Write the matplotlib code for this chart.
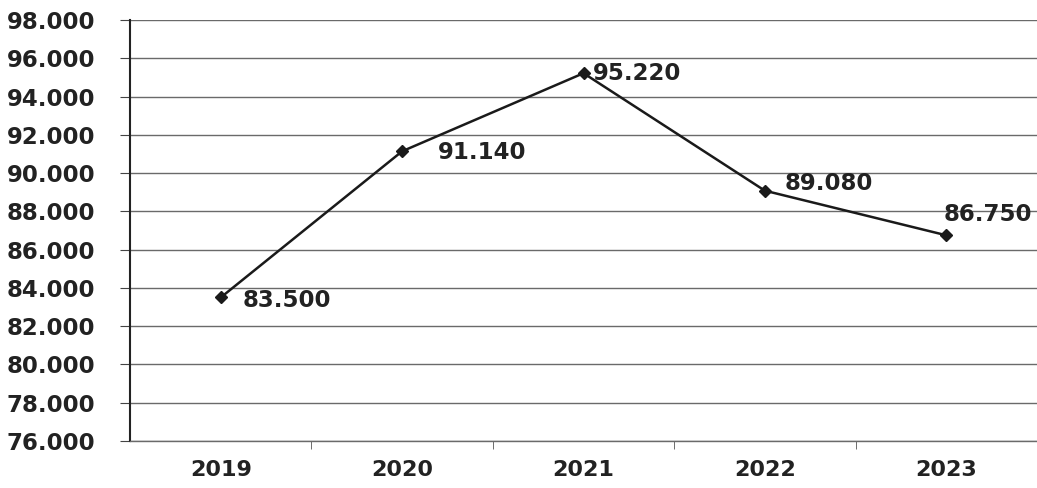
import matplotlib
matplotlib.use("Agg")
import matplotlib.pyplot as plt
from matplotlib.ticker import FixedLocator

years = ["2019", "2020", "2021", "2022", "2023"]
values = [83.500, 91.140, 95.220, 89.080, 86.750]
value_labels = ["83.500", "91.140", "95.220", "89.080", "86.750"]
y_ticks = [76, 78, 80, 82, 84, 86, 88, 90, 92, 94, 96, 98]
y_tick_labels = ["76.000", "78.000", "80.000", "82.000", "84.000", "86.000",
                 "88.000", "90.000", "92.000", "94.000", "96.000", "98.000"]

# label offsets in points (dx, dy)
label_offsets = [(16, -2), (26, -1), (7, 0), (14, 5), (-2, 15)]

plt.rcParams['font.family'] = ['DejaVu Sans']
fig = plt.figure(figsize=(10.37, 4.88), dpi=100)
ax = fig.add_axes([0.1254, 0.0963, 0.8746, 0.8627])

x = list(range(len(years)))
ax.plot(x, values, color="#1a1a1a", linewidth=1.8, marker="D", markersize=6,
        markerfacecolor="#1a1a1a", markeredgecolor="#1a1a1a", zorder=3)

for xi, v, lab, (dx, dy) in zip(x, values, value_labels, label_offsets):
    ax.annotate(lab, (xi, v), xytext=(dx, dy), textcoords="offset points",
                ha="left", va="center", fontsize=16.5, fontweight="bold",
                color="#222222", zorder=4)

ax.set_xlim(-0.5, 4.5)
ax.set_ylim(76, 98)
ax.set_yticks(y_ticks)
ax.set_yticklabels(y_tick_labels, fontsize=16.5, fontweight="bold", color="#222222")
ax.set_xticks(x)
ax.set_xticklabels(years, fontsize=16, fontweight="bold", color="#222222")
ax.xaxis.set_minor_locator(FixedLocator([0.5, 1.5, 2.5, 3.5]))
ax.tick_params(axis="x", which="major", length=0, pad=14)
ax.tick_params(axis="x", which="minor", length=6, color="#555555", direction="out")
ax.tick_params(axis="y", length=7, color="#444444", pad=18)

ax.grid(axis="y", color="#6a6a6a", linewidth=1.0)
ax.set_axisbelow(True)
for s in ["top", "right"]:
    ax.spines[s].set_visible(False)
ax.spines["left"].set_color("#222222")
ax.spines["left"].set_linewidth(1.5)
ax.spines["bottom"].set_color("#6a6a6a")
ax.spines["bottom"].set_linewidth(1.0)

fig.savefig("out.png", dpi=100, facecolor="white")
